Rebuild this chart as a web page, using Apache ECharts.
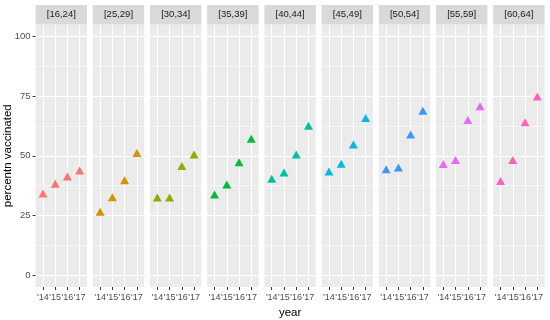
<!DOCTYPE html>
<html>
<head>
<meta charset="utf-8">
<script src="https://cdn.jsdelivr.net/npm/echarts@6/dist/echarts.min.js"></script>
<style>
html,body{margin:0;padding:0;background:#fff;}
#chart{width:550px;height:320px;}
</style>
</head>
<body>
<div id="chart"></div>
<script>
// ---- data ----
var years = ["'14", "'15", "'16", "'17"];
var ageGroups = ['[16,24]', '[25,29]', '[30,34]', '[35,39]', '[40,44]', '[45,49]', '[50,54]', '[55,59]', '[60,64]'];
var v16_24 = [33.7, 37.8, 40.8, 43.3];
var v25_29 = [26.0, 32.1, 39.2, 50.6];
var v30_34 = [32.0, 32.0, 45.2, 50.0];
var v35_39 = [33.3, 37.4, 46.8, 56.6];
var v40_44 = [39.9, 42.5, 50.0, 62.1];
var v45_49 = [42.9, 46.1, 54.2, 65.3];
var v50_54 = [43.8, 44.6, 58.4, 68.4];
var v55_59 = [46.0, 47.7, 64.5, 70.2];
var v60_64 = [38.9, 47.7, 63.5, 74.3];
var yTicks = [0, 25, 50, 75, 100];
var yMinor = [12.5, 37.5, 62.5, 87.5];

var groupValues = [v16_24, v25_29, v30_34, v35_39, v40_44, v45_49, v50_54, v55_59, v60_64];
var colors = ['#F8766D', '#D39200', '#93AA00', '#00BA38', '#00C19F', '#00B9E3', '#3C97FF', '#E46CF4', '#FF61C3'];

// ---- layout ----
var FONT = 'Liberation Sans, Arial, sans-serif';
var panelLeft0 = 35.6, panelPitch = 57.2, panelW = 51.4;
var panelTop = 24.5, panelH = 262.5;
var stripTop = 5, stripH = 19.5;
var xPos = years.map(function (_, i) { return i + 1; });

var grids = [], xAxes = [], yAxes = [], series = [], graphics = [];
ageGroups.forEach(function (g, i) {
  var left = panelLeft0 + panelPitch * i;
  grids.push({
    left: left, top: panelTop, width: panelW, height: panelH,
    show: true, backgroundColor: '#EBEBEB', borderWidth: 0, containLabel: false
  });
  xAxes.push({
    type: 'value', gridIndex: i, min: 0.4, max: 4.6, position: 'bottom',
    axisLine: { show: false, onZero: false },
    axisTick: { show: true, customValues: xPos, length: 3, lineStyle: { color: '#333333', width: 1 } },
    axisLabel: {
      show: true, customValues: xPos, margin: 6, interval: 0,
      showMinLabel: true, showMaxLabel: true, hideOverlap: false,
      color: '#4D4D4D', fontSize: 9, fontFamily: FONT,
      formatter: function (v) { return years[Math.round(v) - 1] || ''; }
    },
    splitLine: { show: true, lineStyle: { color: '#FFFFFF', width: 1.1 } }
  });
  // major y axis
  yAxes.push({
    type: 'value', gridIndex: i, min: -5, max: 105, position: 'left',
    axisLine: { show: false, onZero: false },
    axisTick: { show: i === 0, customValues: yTicks, length: 3, lineStyle: { color: '#333333', width: 1 } },
    axisLabel: { show: i === 0, customValues: yTicks, margin: 5, showMinLabel: true, showMaxLabel: true,
      color: '#4D4D4D', fontSize: 9.5, fontFamily: FONT },
    splitLine: { show: true, lineStyle: { color: '#FFFFFF', width: 1.1 } }
  });
  // minor y grid
  yAxes.push({
    type: 'value', gridIndex: i, min: -5, max: 105, position: 'left',
    axisLine: { show: false, onZero: false },
    axisTick: { show: false, customValues: yMinor },
    axisLabel: { show: false, customValues: yMinor },
    splitLine: { show: true, lineStyle: { color: '#FFFFFF', width: 0.55 } }
  });
  series.push({
    type: 'scatter', name: g, xAxisIndex: i, yAxisIndex: 2 * i,
    symbol: 'triangle', symbolSize: [9, 8], symbolOffset: [0, -1.2],
    itemStyle: { color: colors[i], opacity: 1 },
    data: groupValues[i].map(function (v, k) { return [xPos[k], v]; }),
    z: 5
  });
  graphics.push({
    type: 'rect', left: left, top: stripTop,
    shape: { width: panelW, height: stripH },
    style: { fill: '#D9D9D9' }, silent: true
  });
  graphics.push({
    type: 'text', x: left + panelW / 2, y: stripTop + stripH / 2,
    style: { text: g, fill: '#1A1A1A', fontSize: 9.5, fontFamily: FONT, align: 'center', verticalAlign: 'middle' },
    silent: true
  });
});
var plotCenterX = (panelLeft0 + panelPitch * (ageGroups.length - 1) + panelW + panelLeft0) / 2;
graphics.push({
  type: 'text', x: plotCenterX, y: 312.5,
  style: { text: 'year', fill: '#000000', fontSize: 11.5, fontFamily: FONT, align: 'center', verticalAlign: 'middle' },
  silent: true
});
graphics.push({
  type: 'text', x: 7.5, y: panelTop + panelH / 2, rotation: Math.PI / 2,
  style: { text: 'percentn vaccinated', fill: '#000000', fontSize: 11.5, fontFamily: FONT, align: 'center', verticalAlign: 'middle' },
  silent: true
});

var chart = echarts.init(document.getElementById('chart'), null, { renderer: 'canvas' });
chart.setOption({
  animation: false,
  backgroundColor: '#FFFFFF',
  grid: grids,
  xAxis: xAxes,
  yAxis: yAxes,
  series: series,
  graphic: graphics
});
</script>
</body>
</html>
